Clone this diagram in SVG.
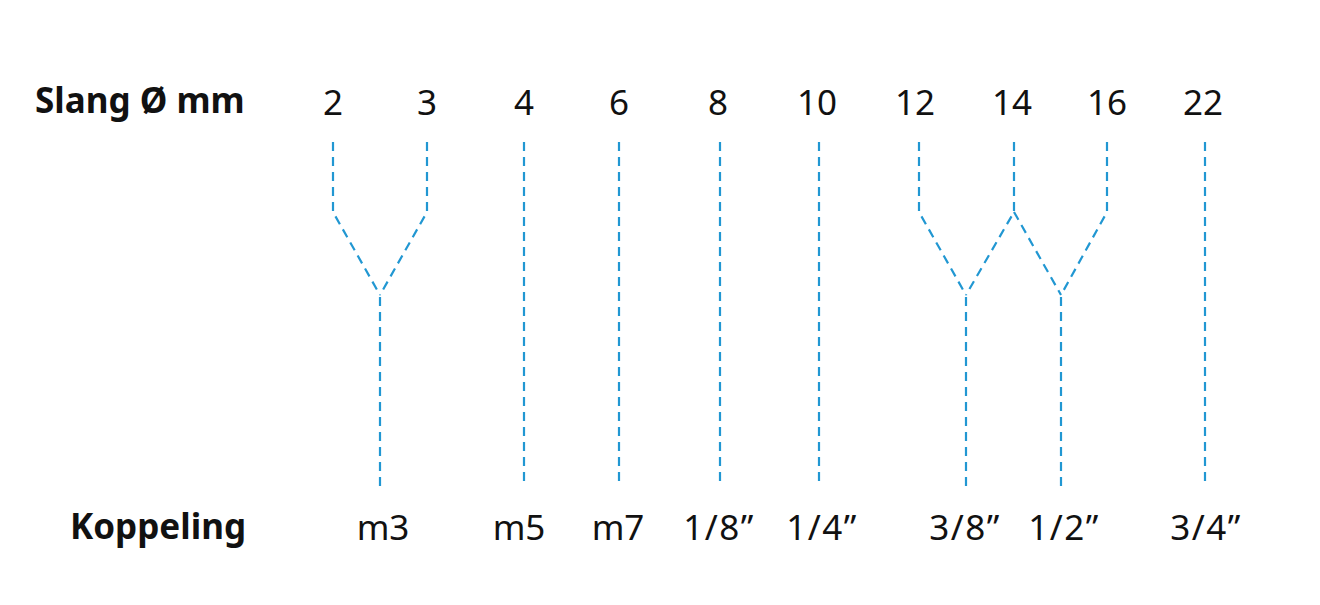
<svg xmlns="http://www.w3.org/2000/svg" width="1320" height="605" viewBox="0 0 1320 605">
<style>
.h{font-family:"Noto Sans","Open Sans",sans-serif;font-weight:bold;font-size:35px;fill:#111}
.t{font-family:"Noto Sans","Open Sans",sans-serif;font-size:35px;fill:#111;text-anchor:middle}
.q{letter-spacing:1.5px}
.c{fill:none;stroke:#2197d2;stroke-width:2.2;stroke-dasharray:9 6}
</style>
<rect width="1320" height="605" fill="#fff"/>
<g id="headers">
<text class="h" x="35" y="113">Slang Ø mm</text>
<text class="h" x="70" y="539">Koppeling</text>
</g>
<g id="sizes">
<text class="t" x="333" y="115">2</text>
<text class="t" x="427" y="115">3</text>
<text class="t" x="524" y="115">4</text>
<text class="t" x="619" y="115">6</text>
<text class="t" x="718" y="115">8</text>
<text class="t" x="817" y="115">10</text>
<text class="t" x="915" y="115">12</text>
<text class="t" x="1012" y="115">14</text>
<text class="t" x="1107" y="115">16</text>
<text class="t" x="1203" y="115">22</text>
</g>
<g id="couplings">
<text class="t" x="383" y="540">m3</text>
<text class="t" x="519" y="540">m5</text>
<text class="t" x="618" y="540">m7</text>
<text class="t q" x="719" y="540">1/8”</text>
<text class="t q" x="822" y="540">1/4”</text>
<text class="t q" x="965" y="540">3/8”</text>
<text class="t q" x="1064" y="540">1/2”</text>
<text class="t q" x="1206" y="540">3/4”</text>
</g>
<g id="connectors">
<path class="c" d="M333 142V212L380 295M427 142V212L380 295M380 297V487"/>
<path class="c" d="M524 142V487"/>
<path class="c" d="M619 142V487"/>
<path class="c" d="M720 142V487"/>
<path class="c" d="M819 142V487"/>
<path class="c" d="M919 142V212L966 295M1014 142V212L966 295M1014 212L1061 295M1107 142V212L1061 295M966 297V487M1061 297V487"/>
<path class="c" d="M1205 142V487"/>
</g>
</svg>
